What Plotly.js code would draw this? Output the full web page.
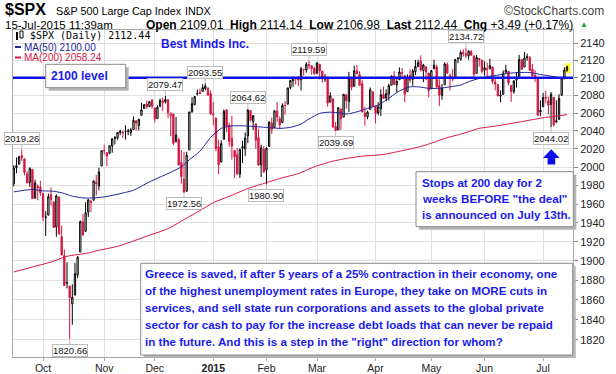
<!DOCTYPE html>
<html><head><meta charset="utf-8">
<script src="https://cdn.plot.ly/plotly-3.0.1.min.js"></script>
<style>html,body{margin:0;padding:0;background:#fff;}#chart{width:616px;height:374px;}</style>
</head><body><div id="chart"></div>
<script>
const dates = [
'2014-09-16','2014-09-17','2014-09-18','2014-09-19','2014-09-22','2014-09-23','2014-09-24','2014-09-25','2014-09-26','2014-09-29','2014-09-30',
'2014-10-01','2014-10-02','2014-10-03','2014-10-06','2014-10-07','2014-10-08','2014-10-09','2014-10-10','2014-10-13','2014-10-14','2014-10-15','2014-10-16','2014-10-17','2014-10-20','2014-10-21','2014-10-22','2014-10-23','2014-10-24','2014-10-27','2014-10-28','2014-10-29','2014-10-30','2014-10-31',
'2014-11-03','2014-11-04','2014-11-05','2014-11-06','2014-11-07','2014-11-10','2014-11-11','2014-11-12','2014-11-13','2014-11-14','2014-11-17','2014-11-18','2014-11-19','2014-11-20','2014-11-21','2014-11-24','2014-11-25','2014-11-26','2014-11-28',
'2014-12-01','2014-12-02','2014-12-03','2014-12-04','2014-12-05','2014-12-08','2014-12-09','2014-12-10','2014-12-11','2014-12-12','2014-12-15','2014-12-16','2014-12-17','2014-12-18','2014-12-19','2014-12-22','2014-12-23','2014-12-24','2014-12-26','2014-12-29','2014-12-30','2014-12-31',
'2015-01-02','2015-01-05','2015-01-06','2015-01-07','2015-01-08','2015-01-09','2015-01-12','2015-01-13','2015-01-14','2015-01-15','2015-01-16','2015-01-20','2015-01-21','2015-01-22','2015-01-23','2015-01-26','2015-01-27','2015-01-28','2015-01-29','2015-01-30',
'2015-02-02','2015-02-03','2015-02-04','2015-02-05','2015-02-06','2015-02-09','2015-02-10','2015-02-11','2015-02-12','2015-02-13','2015-02-17','2015-02-18','2015-02-19','2015-02-20','2015-02-23','2015-02-24','2015-02-25','2015-02-26','2015-02-27',
'2015-03-02','2015-03-03','2015-03-04','2015-03-05','2015-03-06','2015-03-09','2015-03-10','2015-03-11','2015-03-12','2015-03-13','2015-03-16','2015-03-17','2015-03-18','2015-03-19','2015-03-20','2015-03-23','2015-03-24','2015-03-25','2015-03-26','2015-03-27','2015-03-30','2015-03-31',
'2015-04-01','2015-04-02','2015-04-06','2015-04-07','2015-04-08','2015-04-09','2015-04-10','2015-04-13','2015-04-14','2015-04-15','2015-04-16','2015-04-17','2015-04-20','2015-04-21','2015-04-22','2015-04-23','2015-04-24','2015-04-27','2015-04-28','2015-04-29','2015-04-30',
'2015-05-01','2015-05-04','2015-05-05','2015-05-06','2015-05-07','2015-05-08','2015-05-11','2015-05-12','2015-05-13','2015-05-14','2015-05-15','2015-05-18','2015-05-19','2015-05-20','2015-05-21','2015-05-22','2015-05-26','2015-05-27','2015-05-28','2015-05-29',
'2015-06-01','2015-06-02','2015-06-03','2015-06-04','2015-06-05','2015-06-08','2015-06-09','2015-06-10','2015-06-11','2015-06-12','2015-06-15','2015-06-16','2015-06-17','2015-06-18','2015-06-19','2015-06-22','2015-06-23','2015-06-24','2015-06-25','2015-06-26','2015-06-29','2015-06-30',
'2015-07-01','2015-07-02','2015-07-06','2015-07-07','2015-07-08','2015-07-09','2015-07-10','2015-07-13','2015-07-14','2015-07-15'];

const openP = [
1981.93,1999.30,2003.07,2012.74,2009.08,1992.78,1983.34,1997.32,1966.22,1978.96,1978.21,
1971.44,1945.83,1948.12,1970.01,1962.36,1935.55,1967.68,1925.63,1905.65,1877.11,1874.18,1855.95,1864.91,1885.62,1909.38,1941.29,1931.02,1951.59,1962.97,1964.14,1983.29,1979.49,2001.20,
2018.21,2015.81,2015.29,2023.33,2032.36,2032.01,2038.20,2037.75,2039.21,2039.74,2038.29,2041.48,2051.16,2045.87,2057.46,2065.07,2070.15,2067.36,2074.78,
2065.78,2053.77,2067.45,2073.64,2072.78,2074.84,2056.55,2058.86,2027.92,2030.36,2005.03,1986.71,1973.77,2018.98,2061.04,2069.28,2081.48,2083.25,2084.30,2087.63,2088.49,2082.11,
2058.90,2054.44,2022.15,2005.55,2030.61,2063.45,2046.13,2031.58,2018.40,2013.75,1992.25,2020.76,2020.19,2034.30,2062.98,2050.42,2047.86,2032.34,2002.45,2019.35,
1996.67,2022.71,2048.86,2043.45,2062.28,2053.47,2049.38,2068.55,2069.98,2088.78,2096.47,2099.16,2099.25,2097.65,2109.83,2109.10,2115.30,2113.91,2110.88,
2105.23,2115.76,2107.72,2098.54,2100.91,2072.25,2076.14,2044.69,2041.10,2064.56,2055.35,2080.59,2072.84,2098.69,2090.32,2107.99,2103.94,2093.10,2059.94,2055.78,2064.11,2084.05,
2067.63,2060.03,2064.87,2080.79,2076.94,2081.29,2091.51,2102.03,2092.28,2097.82,2105.96,2102.58,2084.11,2102.82,2098.27,2107.21,2112.80,2119.29,2108.35,2112.49,2105.52,
2087.38,2110.23,2112.63,2091.26,2079.96,2092.13,2115.56,2102.87,2099.62,2100.43,2122.07,2121.30,2129.45,2127.79,2125.55,2130.36,2125.34,2105.13,2122.27,2120.66,
2108.64,2110.41,2110.64,2112.35,2095.09,2092.34,2079.07,2081.12,2106.24,2107.43,2091.34,2084.26,2097.40,2101.58,2121.06,2112.50,2123.16,2123.65,2109.96,2102.62,2098.63,2061.19,
2067.00,2078.03,2073.95,2069.52,2077.66,2049.73,2052.74,2080.03,2099.72,2109.01];

const highP = [
2002.28,2010.74,2012.34,2019.26,2009.08,1995.41,1999.79,1997.32,1986.37,1981.28,1985.17,
1971.44,1952.32,1971.19,1977.84,1962.36,1970.36,1967.68,1936.98,1912.09,1898.71,1874.18,1876.01,1898.16,1905.03,1942.45,1949.31,1961.95,1965.27,1964.64,1985.05,1991.40,1999.40,2018.19,
2024.46,2015.98,2023.77,2031.61,2034.26,2038.70,2041.28,2040.33,2046.18,2042.22,2043.07,2056.08,2052.14,2053.84,2071.46,2070.17,2074.21,2073.29,2075.76,
2065.78,2068.77,2076.28,2077.34,2079.47,2075.78,2060.60,2058.86,2055.53,2032.25,2018.69,2016.89,2016.75,2061.23,2077.85,2078.76,2086.73,2087.56,2092.70,2093.55,2088.49,2085.58,
2072.36,2054.44,2030.25,2029.61,2064.08,2064.43,2049.30,2056.93,2018.40,2021.35,2020.46,2028.94,2038.29,2064.62,2062.98,2057.62,2047.86,2042.49,2024.64,2023.32,
2021.66,2050.30,2054.74,2063.55,2072.40,2056.16,2070.86,2073.48,2088.53,2097.03,2101.30,2100.23,2102.13,2112.74,2110.05,2117.94,2119.59,2113.91,2112.74,
2117.52,2115.76,2107.72,2104.25,2100.91,2083.49,2076.14,2050.08,2066.41,2064.56,2081.41,2080.59,2106.85,2098.69,2113.92,2114.86,2107.63,2097.43,2067.15,2062.83,2088.97,2084.05,
2067.63,2072.17,2086.99,2089.81,2086.69,2093.31,2102.61,2107.65,2098.62,2111.91,2111.30,2102.58,2103.94,2109.64,2109.98,2120.49,2120.92,2125.92,2116.04,2113.65,2105.52,
2108.41,2120.95,2115.24,2098.42,2092.90,2117.66,2117.69,2105.06,2110.19,2121.45,2123.89,2131.78,2133.02,2134.72,2131.78,2132.15,2125.34,2126.22,2122.27,2120.66,
2119.15,2117.59,2121.92,2112.89,2100.99,2093.01,2085.62,2108.50,2115.02,2107.43,2091.34,2097.40,2106.79,2126.65,2121.64,2129.87,2128.03,2125.10,2116.04,2108.92,2098.63,2074.28,
2082.78,2085.06,2078.61,2083.74,2077.66,2074.28,2081.31,2100.67,2111.98,2114.14];

const lowP = [
1979.06,1993.29,2003.07,2006.59,1991.01,1982.77,1978.63,1965.99,1966.22,1964.04,1968.96,
1941.72,1926.03,1948.12,1958.43,1935.10,1925.25,1927.56,1906.05,1874.14,1871.79,1820.66,1835.02,1864.91,1882.30,1909.38,1926.83,1931.02,1946.27,1951.37,1964.14,1969.04,1974.75,2001.20,
2013.68,2001.01,2014.42,2015.86,2025.07,2030.17,2035.28,2031.95,2030.44,2035.20,2034.46,2041.48,2040.37,2040.49,2056.75,2065.07,2064.75,2066.62,2065.06,
2049.57,2053.77,2066.65,2062.34,2070.81,2054.27,2034.17,2024.26,2027.92,2002.33,1982.26,1972.56,1973.77,2018.98,2061.03,2069.28,2079.77,2081.86,2084.30,2085.75,2079.53,2057.94,
2046.04,2017.34,1992.44,2005.55,2030.61,2038.33,2022.58,2008.25,1988.44,1991.47,1988.12,2004.49,2012.04,2026.38,2050.54,2040.97,2019.91,2001.49,1989.18,1993.38,
1980.90,2022.71,2036.72,2043.45,2049.97,2041.88,2048.62,2057.99,2069.98,2086.70,2089.80,2092.15,2090.79,2085.44,2102.68,2105.87,2109.89,2103.76,2103.75,
2104.50,2098.26,2094.49,2095.22,2067.27,2072.21,2044.16,2039.69,2041.10,2041.17,2055.35,2065.08,2061.23,2085.56,2090.32,2104.42,2091.50,2061.05,2045.50,2052.96,2064.11,2067.04,
2048.38,2057.32,2056.52,2076.10,2073.30,2074.29,2091.51,2092.33,2083.24,2097.82,2100.02,2072.37,2084.11,2094.38,2091.05,2103.19,2112.80,2107.04,2094.89,2097.41,2077.59,
2087.38,2110.23,2088.46,2067.93,2074.99,2092.13,2104.58,2085.57,2096.04,2100.43,2116.81,2120.01,2124.50,2122.59,2120.91,2126.06,2099.18,2105.13,2112.86,2104.89,
2102.54,2099.14,2109.61,2093.23,2085.67,2079.11,2072.14,2081.12,2106.24,2091.33,2072.49,2082.10,2088.86,2101.58,2109.45,2112.50,2119.89,2108.58,2101.78,2095.38,2056.64,2056.32,
2067.00,2071.02,2058.40,2044.02,2044.66,2049.73,2052.74,2080.03,2098.18,2106.98];

const closeP = [
1998.98,2001.57,2011.36,2010.40,1994.29,1982.77,1998.30,1965.99,1982.85,1977.80,1972.29,
1946.16,1946.17,1967.90,1964.82,1935.10,1968.89,1928.21,1906.13,1874.74,1877.70,1862.49,1862.76,1886.76,1904.01,1941.28,1927.11,1950.82,1964.58,1961.63,1985.05,1982.30,1994.65,2018.05,
2017.81,2012.10,2023.57,2031.21,2031.92,2038.26,2039.68,2038.25,2039.33,2039.82,2041.32,2051.80,2048.72,2052.75,2063.50,2069.41,2067.03,2072.83,2067.56,
2053.44,2066.55,2074.33,2071.92,2075.37,2060.31,2059.82,2026.14,2035.33,2002.33,1989.63,1972.74,2012.89,2061.23,2070.65,2078.54,2082.17,2081.88,2088.77,2090.57,2080.35,2058.90,
2058.20,2020.58,2002.61,2025.90,2062.14,2044.81,2028.26,2023.03,2011.27,1992.67,2019.42,2022.55,2032.12,2063.15,2051.82,2057.09,2029.55,2002.16,2021.25,1994.99,
2020.85,2050.03,2041.51,2062.52,2055.47,2046.74,2068.59,2068.53,2088.48,2096.99,2100.34,2099.68,2097.45,2110.30,2109.66,2115.48,2113.86,2110.74,2104.50,
2117.39,2107.78,2098.53,2101.04,2071.26,2079.43,2044.16,2040.24,2065.95,2053.40,2081.19,2074.28,2099.50,2089.27,2108.10,2104.42,2091.50,2061.05,2056.15,2061.02,2086.24,2067.89,
2059.69,2066.96,2080.62,2076.33,2081.90,2091.18,2102.06,2092.43,2095.84,2106.63,2104.99,2081.18,2100.40,2097.29,2107.96,2112.93,2117.69,2108.92,2114.76,2106.85,2085.51,
2108.29,2114.49,2089.46,2080.15,2088.00,2116.10,2105.33,2099.12,2098.48,2121.10,2122.73,2129.20,2127.83,2125.85,2130.82,2126.06,2104.20,2123.48,2120.79,2107.39,
2111.73,2109.60,2114.07,2095.84,2092.83,2079.28,2080.15,2105.20,2108.86,2094.11,2084.43,2096.29,2100.44,2121.24,2109.99,2122.85,2124.20,2108.58,2102.31,2101.49,2057.64,2063.11,
2077.42,2076.78,2068.76,2081.34,2046.68,2051.31,2076.62,2099.60,2108.95,2112.44];

const ma50Dates = ['2014-09-16','2014-09-22','2014-09-25','2014-10-01','2014-10-07','2014-10-13','2014-10-16','2014-10-22','2014-10-28','2014-11-03','2014-11-10','2014-11-18','2014-11-26','2014-12-08','2014-12-15','2014-12-18','2014-12-24','2014-12-31','2015-01-07','2015-01-13','2015-01-16','2015-01-23','2015-01-29','2015-02-04','2015-02-09','2015-02-13','2015-02-20','2015-02-25','2015-03-03','2015-03-09','2015-03-13','2015-03-17','2015-03-23','2015-03-27','2015-04-02','2015-04-08','2015-04-15','2015-04-21','2015-04-24','2015-04-30','2015-05-06','2015-05-12','2015-05-18','2015-05-21','2015-05-28','2015-06-03','2015-06-08','2015-06-12','2015-06-18','2015-06-24','2015-06-29','2015-07-07','2015-07-10','2015-07-15'];
const ma50 = [1973.1,1974.9,1975.7,1974.2,1973.8,1971.4,1968.5,1966.6,1966.6,1967.7,1970.6,1974.9,1983.9,1993.0,2000.3,2008.0,2017.5,2032.7,2042.8,2045.7,2045.7,2045.2,2044.3,2043.4,2042.8,2043.9,2047.6,2053.2,2059.6,2061.0,2059.9,2058.8,2061.3,2065.2,2069.0,2074.6,2085.0,2089.7,2089.7,2088.0,2088.0,2089.7,2091.7,2095.5,2099.4,2101.9,2103.1,2105.2,2106.1,2106.1,2104.4,2101.9,2100.3,2100.0];

const ma200Dates = ['2014-09-16','2014-09-25','2014-10-06','2014-10-14','2014-10-24','2014-10-30','2014-11-10','2014-11-18','2014-11-26','2014-12-08','2014-12-16','2014-12-24','2015-01-02','2015-01-13','2015-01-22','2015-01-30','2015-02-09','2015-02-19','2015-02-27','2015-03-09','2015-03-17','2015-03-25','2015-04-06','2015-04-14','2015-04-22','2015-04-30','2015-05-08','2015-05-19','2015-05-28','2015-06-05','2015-06-15','2015-06-24','2015-07-02','2015-07-10','2015-07-15'];
const ma200 = [1888.6,1893.8,1898.9,1904.9,1908.3,1911.1,1915.3,1920.9,1926.9,1933.9,1943.5,1953.0,1961.5,1969.5,1976.8,1982.2,1987.6,1993.0,2000.3,2005.8,2009.5,2012.0,2013.5,2016.8,2020.5,2025.3,2031.6,2037.2,2042.8,2045.3,2048.3,2052.0,2055.1,2056.9,2058.24];

const monthTickDates = ['2014-10-01','2014-11-03','2014-12-01','2015-01-02','2015-02-02','2015-03-02','2015-04-01','2015-05-01','2015-06-01','2015-07-01'];
const monthTickText = ['Oct','Nov','Dec','<b>2015</b>','Feb','Mar','Apr','May','Jun','Jul'];
const yTicks = [1820,1840,1860,1880,1900,1920,1940,1960,1980,2000,2020,2040,2060,2080,2100,2120,2140];

const labelDates = ['2014-09-19','2014-10-15','2014-12-05','2014-12-16','2014-12-29','2015-01-22','2015-02-02','2015-02-25','2015-03-11','2015-05-20','2015-07-07'];
const labelValues = [2019.26,1820.66,2079.47,1972.56,2093.55,2064.62,1980.90,2119.59,2039.69,2134.72,2044.02];
const labelIsHigh = [true,false,true,false,true,true,false,true,false,true,false];

const levelValue = 2100;

const FONT = 'Arial, "Liberation Sans", sans-serif';
const BLUE = '#1a1aee';
const RED = '#d5163f';
const NAVY = '#24249a';

// pixel -> paper helpers (plot area 13..573 x 30..357)
const PX = x => (x - 13) / 560;
const PY = y => (357 - y) / 327;

// split candles StockCharts-style: black if close >= previous close, red otherwise
const blk = {x:[],open:[],high:[],low:[],close:[]};
const rd = {x:[],open:[],high:[],low:[],close:[]};
for (let i = 0; i < dates.length; i++) {
  const up = i === 0 ? closeP[i] >= openP[i] : closeP[i] >= closeP[i-1];
  const t = up ? blk : rd;
  t.x.push(dates[i]); t.open.push(openP[i]); t.high.push(highP[i]); t.low.push(lowP[i]); t.close.push(closeP[i]);
}
function candle(t, col) {
  return {type:'candlestick', x:t.x, open:t.open, high:t.high, low:t.low, close:t.close,
    increasing:{line:{color:col,width:1}, fillcolor:'#ffffff'},
    decreasing:{line:{color:col,width:1}, fillcolor:col},
    whiskerwidth:0, hoverinfo:'skip', showlegend:false};
}
const traces = [
  {type:'scatter', mode:'lines', x:ma200Dates, y:ma200, line:{color:RED, width:1, shape:'spline', smoothing:0.6}, hoverinfo:'skip', showlegend:false},
  {type:'scatter', mode:'lines', x:ma50Dates, y:ma50, line:{color:NAVY, width:1, shape:'spline', smoothing:0.6}, hoverinfo:'skip', showlegend:false},
  candle(blk, '#000000'),
  candle(rd, RED)
];

const shapes = [];
const annotations = [];

// yellow highlight on latest candle
shapes.push({type:'rect', xref:'paper', yref:'paper', x0:PX(565.3), x1:PX(570.7), y0:PY(73.3), y1:PY(63.3), fillcolor:'#ffff33', line:{width:0}, layer:'below'});
// 2100 level line
shapes.push({type:'line', xref:'paper', x0:0, x1:1, yref:'y', y0:levelValue, y1:levelValue, line:{color:'#1010e8', width:2.5}, layer:'above'});

function box(x0, y0, x1, y1) {
  shapes.push({type:'rect', xref:'paper', yref:'paper', x0:PX(x0+3), x1:PX(x1+3), y0:PY(y1+3), y1:PY(y0+3), fillcolor:'#b4b4b4', line:{width:0}, layer:'above'});
  shapes.push({type:'rect', xref:'paper', yref:'paper', x0:PX(x0), x1:PX(x1), y0:PY(y1), y1:PY(y0), fillcolor:'#ffffff', line:{color:'#8a8a8a', width:1}, layer:'above'});
}
function txt(text, x, y, opts) {
  annotations.push(Object.assign({text:text, xref:'paper', yref:'paper', x:PX(x), y:PY(y), xanchor:'left', yanchor:'middle', showarrow:false,
    font:{family:FONT, size:11.6, color:BLUE}}, opts || {}));
}

// 2100 level box
box(45.7, 64.3, 125.7, 87.7);
txt('<b>2100 level</b>', 49, 76, {font:{family:FONT, size:12, color:BLUE}});

// Stops box
box(416, 171.7, 573.3, 226.7);
const stopsLines = ['Stops at 200 day for 2', 'weeks BEFORE "the deal"', 'is announced on July 13th.'];
stopsLines.forEach((s, k) => txt('<b>' + s + '</b>', 419.5, 182.3 + 16 * k));

// Greece box
box(140.7, 263.3, 572.7, 355);
const greeceLines = [
  'Greece is saved, if after 5 years of a 25% contraction in their economy, one',
  'of the highest unemployment rates in Europe, they take on MORE cuts in',
  'services, and sell state run corporations and assets to the global private',
  'sector for cash to pay for the increase debt loads that can never be repaid',
  'in the future. And this is a step in the "right" direction for whom?'];
greeceLines.forEach((s, k) => txt('<b>' + s + '</b>', 143.3, 273.3 + 17.1 * k));

// blue arrow
shapes.push({type:'path', xref:'paper', yref:'paper', layer:'above', fillcolor:'#0a0aee', line:{width:0},
  path:`M ${PX(551.3)},${PY(149.3)} L ${PX(559.6)},${PY(158)} L ${PX(555.2)},${PY(158)} L ${PX(555.2)},${PY(164.5)} L ${PX(547.6)},${PY(164.5)} L ${PX(547.6)},${PY(158)} L ${PX(543)},${PY(158)} Z`});

// Best Minds
txt('<b>Best Minds Inc.</b>', 159, 44, {font:{family:FONT, size:12, color:BLUE}});

// legend area
shapes.push({type:'rect', xref:'paper', yref:'paper', x0:PX(16), x1:PX(18), y0:PY(40), y1:PY(32), fillcolor:'#000', line:{width:0}, layer:'above'});
shapes.push({type:'rect', xref:'paper', yref:'paper', x0:PX(20), x1:PX(23), y0:PY(38), y1:PY(31), fillcolor:'#fff', line:{color:'#000', width:1}, layer:'above'});
shapes.push({type:'line', xref:'paper', yref:'paper', x0:PX(15), x1:PX(21), y0:PY(47), y1:PY(47), line:{color:NAVY, width:2}, layer:'above'});
shapes.push({type:'line', xref:'paper', yref:'paper', x0:PX(15), x1:PX(21), y0:PY(57.5), y1:PY(57.5), line:{color:RED, width:2}, layer:'above'});
txt('$SPX (Daily) 2112.44', 28, 35.5, {font:{family:'"DejaVu Sans Mono", monospace', size:10, color:'#000'}});
txt('MA(50) 2100.00', 22, 47, {font:{family:FONT, size:10, color:NAVY}});
txt('MA(200) 2058.24', 22, 57.5, {font:{family:FONT, size:10, color:RED}});

// header
txt('<b>$SPX</b>', 3, 9.5, {font:{family:FONT, size:16, color:'#000'}});
txt('S&P 500 Large Cap Index', 54, 10.5, {font:{family:FONT, size:10.8, color:'#000'}});
txt('INDX', 183, 10.5, {font:{family:FONT, size:10.8, color:'#000'}});
txt('©StockCharts.com', 606, 10.5, {xanchor:'right', font:{family:FONT, size:12, color:'#444'}});
txt('15-Jul-2015 11:39am', 3, 24.5, {font:{family:FONT, size:11.5, color:'#000'}});
const NB = '\u00a0';
txt(`<b>Open</b>${NB}2109.01${NB}${NB}<b>High</b>${NB}2114.14${NB}${NB}<b>Low</b>${NB}2106.98${NB}${NB}<b>Last</b>${NB}2112.44${NB}${NB}<b>Chg</b>${NB}+3.49${NB}(+0.17%)`, 575, 24.5, {xanchor:'right', font:{family:FONT, size:12, color:'#000'}});
txt('▲', 578, 24.5, {font:{family:FONT, size:8, color:'#2a9a2a'}});

// price labels
labelDates.forEach((d, k) => {
  annotations.push({xref:'x', yref:'y', x:dates.indexOf(d), y:Math.log10(labelValues[k]),
    text:labelValues[k].toFixed(2), showarrow:true, arrowhead:0, arrowwidth:1, arrowcolor:'#bbbbbb',
    ax:0, ay:labelIsHigh[k] ? -11 : 11, standoff:0,
    bgcolor:'#ffffff', bordercolor:'#bbbbbb', borderwidth:1, borderpad:0,
    font:{family:FONT, size:9.5, color:'#111'}});
});

const layout = {
  width:616, height:374,
  margin:{l:13, r:43, t:30, b:17},
  paper_bgcolor:'#ffffff', plot_bgcolor:'#ffffff',
  showlegend:false,
  xaxis:{type:'category', categoryorder:'array', categoryarray:dates, range:[-0.3, 210.25],
    tickmode:'array', tickvals:monthTickDates, ticktext:monthTickText,
    showgrid:true, gridcolor:'#e0e0e0', gridwidth:1, ticks:'outside', ticklen:3, tickcolor:'#aaa',
    ticklabelstandoff:-2,
    showline:true, linecolor:'#a8a8a8', linewidth:1, mirror:true, zeroline:false,
    tickfont:{family:FONT, size:10.5, color:'#222'}, rangeslider:{visible:false}, fixedrange:true},
  yaxis:{type:'log', side:'right', range:[Math.log10(1802.9), Math.log10(2155.6)],
    tickmode:'array', tickvals:yTicks, ticktext:yTicks.map(String),
    showgrid:true, gridcolor:'#e0e0e0', gridwidth:1, ticks:'outside', ticklen:4, tickcolor:'#888',
    showline:true, linecolor:'#a8a8a8', linewidth:1, mirror:true, zeroline:false,
    tickfont:{family:FONT, size:11, color:'#222'}, fixedrange:true},
  shapes:shapes,
  annotations:annotations,
  boxgap:0.3
};

Plotly.newPlot('chart', traces, layout, {staticPlot:true, displayModeBar:false});
</script>
</body></html>
